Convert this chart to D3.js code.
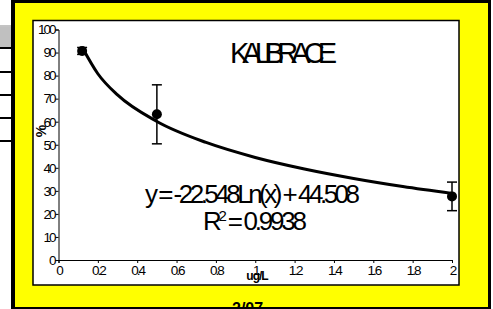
<!DOCTYPE html>
<html>
<head>
<meta charset="utf-8">
<script src="https://cdn.jsdelivr.net/npm/d3@7"></script>
<style>
  body { margin: 0; background: #fff; }
  svg { display: block; font-family: "Liberation Sans", Arial, sans-serif; }
</style>
</head>
<body>
<svg width="493" height="309"></svg>
<script>
// tick values
var xTicks = [0, 0.2, 0.4, 0.6, 0.8, 1, 1.2, 1.4, 1.6, 1.8, 2];
var yTicks = [0, 10, 20, 30, 40, 50, 60, 70, 80, 90, 100];

// measured points (concentration ug/L, % with error)
var concX = [0.12, 0.5, 2];
var meanY = [90.7, 63.2, 27.6];
var errY = [1.5, 12.8, 6.2];

// log trendline
var trendX = [0.12, 0.2, 0.3, 0.5, 0.75, 1.0, 1.25, 1.5, 1.75, 2.0];
var trendY = [92.3, 80.8, 71.6, 60.1, 51.0, 44.5, 39.5, 35.4, 31.9, 28.9];

var svg = d3.select("svg");

// spreadsheet strip on the left
svg.append("rect").attr("x", 0).attr("y", 0).attr("width", 493).attr("height", 309).attr("fill", "#fff");
svg.append("rect").attr("x", 0).attr("y", 27).attr("width", 11).attr("height", 20).attr("fill", "#c0c0c0");
[26, 48, 72, 95, 118, 141].forEach(function(y, i) {
    svg.append("line")
        .attr("x1", 0).attr("x2", 11).attr("y1", y).attr("y2", y)
        .attr("stroke", i == 0 ? "#888" : "#000")
        .attr("stroke-width", i == 0 ? 1 : 2);
});

// chart frame: black border + yellow background
svg.append("rect").attr("x", 11).attr("y", 0).attr("width", 480).attr("height", 309).attr("fill", "#000");
svg.append("rect").attr("x", 15).attr("y", 3).attr("width", 473).attr("height", 304).attr("fill", "#ffff00");

// plot area
svg.append("rect")
    .attr("x", 33).attr("y", 20.5).attr("width", 426).attr("height", 264.5)
    .attr("fill", "#fff").attr("stroke", "#000").attr("stroke-width", 1.5);

var x = d3.scaleLinear().domain([0, 2]).range([58.5, 452]);
var y = d3.scaleLinear().domain([0, 100]).range([260, 29.5]);

var xAxis = svg.append("g")
    .attr("transform", "translate(0,260)")
    .call(d3.axisBottom(x).tickValues(xTicks).tickSize(3).tickPadding(2)
        .tickFormat(function(d) { return d; }));
var yAxis = svg.append("g")
    .attr("transform", "translate(58.5,0)")
    .call(d3.axisLeft(y).tickValues(yTicks).tickSize(3).tickPadding(1));

[xAxis, yAxis].forEach(function(a) {
    a.select(".domain").attr("stroke", "#000").attr("stroke-width", 1);
    a.selectAll(".tick line").attr("stroke", "#000");
    a.selectAll("text")
        .attr("fill", "#000")
        .style("font-size", "13.5px")
        .style("letter-spacing", "-2px");
});

// axis titles
svg.append("text")
    .attr("transform", "translate(46,131) rotate(-90)")
    .attr("text-anchor", "middle")
    .style("font-size", "14px").style("font-weight", "bold")
    .text("%");
svg.append("text")
    .attr("x", 257).attr("y", 280)
    .attr("text-anchor", "middle")
    .style("font-size", "12px").style("font-weight", "bold")
    .style("letter-spacing", "-1px")
    .text("ug/L");

// trendline
var line = d3.line()
    .x(function(d, i) { return x(trendX[i]); })
    .y(function(d) { return y(d); })
    .curve(d3.curveMonotoneX);
svg.append("path")
    .datum(trendY)
    .attr("d", line)
    .attr("fill", "none")
    .attr("stroke", "#000")
    .attr("stroke-width", 3);

// error bars
var bars = svg.append("g").selectAll("g").data(concX).enter().append("g");
bars.append("line")
    .attr("x1", function(d) { return x(d); }).attr("x2", function(d) { return x(d); })
    .attr("y1", function(d, i) { return y(meanY[i] + errY[i]); })
    .attr("y2", function(d, i) { return y(meanY[i] - errY[i]); })
    .attr("stroke", "#000").attr("stroke-width", 1.5);
[1, -1].forEach(function(s) {
    bars.append("line")
        .attr("x1", function(d) { return x(d) - 5; }).attr("x2", function(d) { return x(d) + 5; })
        .attr("y1", function(d, i) { return y(meanY[i] + s * errY[i]); })
        .attr("y2", function(d, i) { return y(meanY[i] + s * errY[i]); })
        .attr("stroke", "#000").attr("stroke-width", 1.5);
});

// points
svg.append("g").selectAll("circle").data(concX).enter().append("circle")
    .attr("cx", function(d) { return x(d); })
    .attr("cy", function(d, i) { return y(meanY[i]); })
    .attr("r", 5)
    .attr("fill", "#000");

// title and equation
svg.append("text")
    .attr("x", 230).attr("y", 63)
    .attr("textLength", 107).attr("lengthAdjust", "spacing")
    .style("font-size", "29px")
    .text("KALIBRACE");
svg.append("text")
    .attr("x", 145).attr("y", 203)
    .attr("textLength", 215).attr("lengthAdjust", "spacing")
    .style("font-size", "26px")
    .text("y = -22.548Ln(x) + 44.508");
var r2 = svg.append("text")
    .attr("x", 203).attr("y", 230)
    .attr("textLength", 104).attr("lengthAdjust", "spacing")
    .style("font-size", "26px");
r2.append("tspan").text("R");
r2.append("tspan").attr("dy", -9).style("font-size", "15px").text("2");
r2.append("tspan").attr("dy", 9).text(" = 0.9938");

// caption, cut off by the bottom edge
svg.append("text")
    .attr("x", 232).attr("y", 314)
    .style("font-size", "16px").style("font-weight", "bold")
    .text("2/07 -  .");
</script>
</body>
</html>
